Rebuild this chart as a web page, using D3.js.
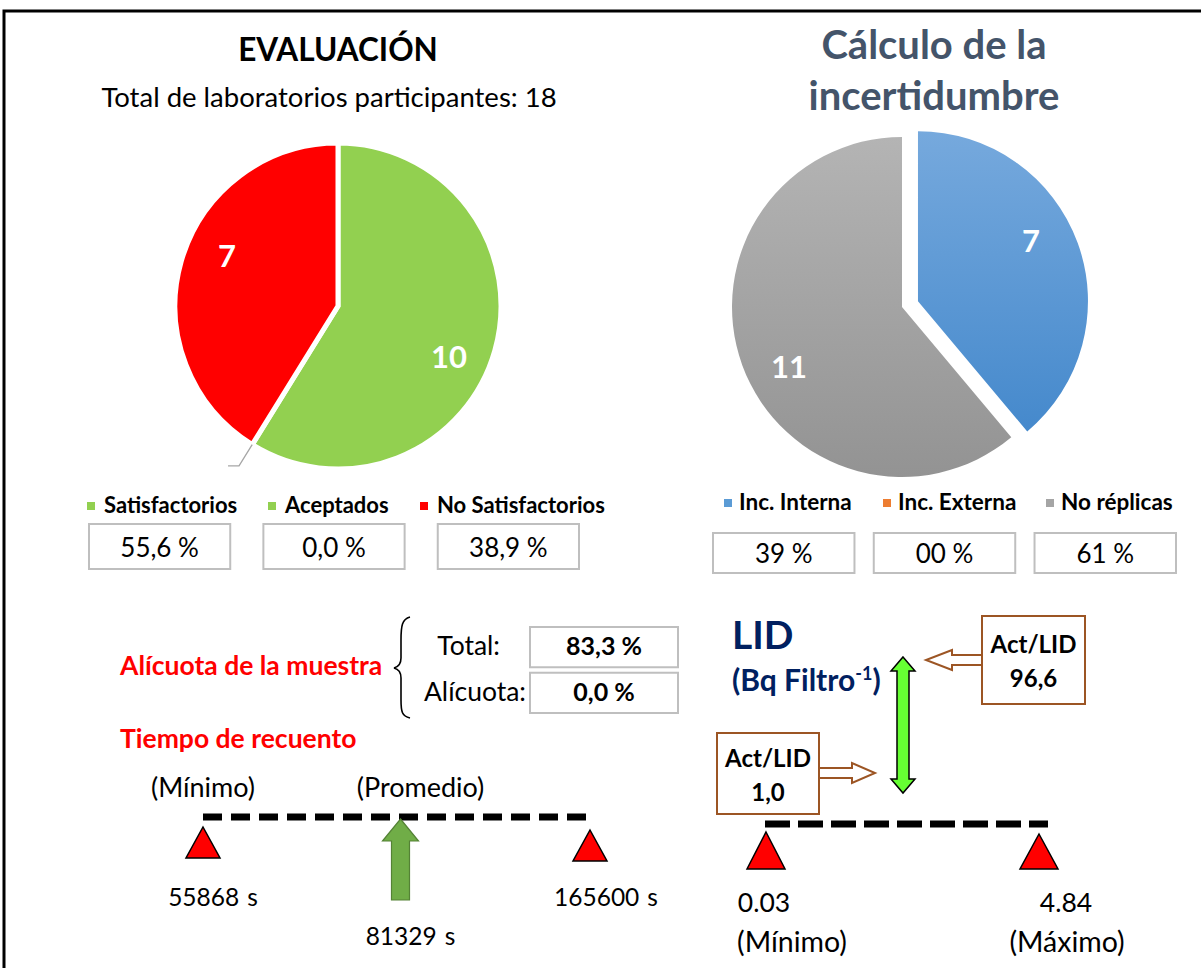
<!DOCTYPE html>
<meta charset="utf-8">
<head>
  <script src="https://d3js.org/d3.v7.min.js"></script>
  <style>
    body { margin: 0; background: #fff; }
    svg { display: block; }
    text { font-family: Lato, "Open Sans", sans-serif; }
  </style>
</head>
<body>
<script>
// ---- data ----
var evalCats = ["Satisfactorios", "Aceptados", "No Satisfactorios"];
var evalValues = [10, 0, 7];
var evalPct = ["55,6 %", "0,0 %", "38,9 %"];
var evalColors = ["#92d050", "#92d050", "#ff0000"];
var totalLabs = 18;

var uncCats = ["Inc. Interna", "Inc. Externa", "No réplicas"];
var uncValues = [7, 0, 11];
var uncPct = ["39 %", "00 %", "61 %"];

var aliqLabels = ["Total:", "Alícuota:"];
var aliqValues = ["83,3 %", "0,0 %"];

var timeKeys = ["min", "mean", "max"];
var timeNames = ["(Mínimo)", "(Promedio)", "(Máximo)"];
var timeValues = [55868, 81329, 165600];

var lidKeys = ["min", "max"];
var lidNames = ["(Mínimo)", "(Máximo)"];
var lidValues = ["0.03", "4.84"];
var actLid = ["96,6", "1,0"];

var W = 1201, H = 968;
var svg = d3.select("body").append("svg").attr("width", W).attr("height", H);

var defs = svg.append("defs");
function grad(id, c1, c2) {
  var g = defs.append("linearGradient").attr("id", id)
    .attr("x1", 0).attr("y1", 0).attr("x2", 0).attr("y2", 1);
  g.append("stop").attr("offset", "0%").attr("stop-color", c1);
  g.append("stop").attr("offset", "100%").attr("stop-color", c2);
}
grad("gBlue", "#76a9dd", "#4589cc");
grad("gOrange", "#f4a060", "#e8762c");
grad("gGrey", "#b4b4b4", "#939393");

// frame
svg.append("path").attr("d", "M4," + H + "V11H" + W)
  .attr("fill", "none").attr("stroke", "#000").attr("stroke-width", 3);

function labelPos(d, r, off) {
  var a = (d.startAngle + d.endAngle) / 2 + off;
  return "translate(" + (r * Math.sin(a)) + "," + (-r * Math.cos(a)) + ")";
}

// ---------- left pie ----------
svg.append("text").attr("x", 338).attr("y", 61).attr("text-anchor", "middle")
  .attr("font-weight", "bold").attr("font-size", 31.5).text("EVALUACIÓN");
svg.append("text").attr("x", 329).attr("y", 107).attr("text-anchor", "middle")
  .attr("font-size", 27.5).text("Total de laboratorios participantes: " + totalLabs);

var pie = d3.pie().sort(null).value(function(d) { return d; });
var arc1 = d3.arc().innerRadius(0).outerRadius(163);
var p1 = svg.append("g").attr("transform", "translate(338,306)");
var a1 = pie(evalValues);
p1.selectAll("path").data(a1).enter().append("path")
  .attr("d", arc1)
  .attr("fill", function(d, i) { return evalColors[i]; })
  .attr("stroke", "#fff").attr("stroke-width", function(d) { return d.value ? 5 : 0; });

p1.selectAll("text.v").data(a1.filter(function(d) { return d.value > 0; })).enter()
  .append("text").attr("class", "v")
  .attr("transform", function(d) { return labelPos(d, 122, 0.15); })
  .attr("text-anchor", "middle").attr("dy", "0.36em")
  .attr("fill", "#fff").attr("font-weight", "bold").attr("font-size", 31)
  .text(function(d) { return d.value; });

// leader line for the zero slice
var zero = a1[1];
var pA = d3.arc().innerRadius(163).outerRadius(163).centroid(zero);
var pB = d3.arc().innerRadius(188).outerRadius(188).centroid(zero);
p1.append("path")
  .attr("d", "M" + pA + "L" + pB + "h-11")
  .attr("fill", "none").attr("stroke", "#a6a6a6").attr("stroke-width", 1.3);

// legend + boxes left
var legX1 = d3.scaleOrdinal().domain(evalCats).range([87, 268, 420]);
evalCats.forEach(function(c, i) {
  svg.append("rect").attr("x", legX1(c)).attr("y", 502).attr("width", 8).attr("height", 8)
    .attr("fill", evalColors[i]);
  svg.append("text").attr("x", legX1(c) + 17).attr("y", 513)
    .attr("font-weight", "bold").attr("font-size", 22).text(c);
});
var boxX1 = d3.scaleBand().domain(evalCats).range([89, 579]).paddingInner(0.19);
svg.selectAll("rect.b1").data(evalCats).enter().append("rect").attr("class", "b1")
  .attr("x", function(d) { return boxX1(d); }).attr("y", 524)
  .attr("width", boxX1.bandwidth()).attr("height", 45)
  .attr("fill", "#fff").attr("stroke", "#bfbfbf").attr("stroke-width", 2);
svg.selectAll("text.b1").data(evalCats).enter().append("text").attr("class", "b1")
  .attr("x", function(d) { return boxX1(d) + boxX1.bandwidth() / 2; }).attr("y", 557)
  .attr("text-anchor", "middle").attr("font-size", 26)
  .text(function(d, i) { return evalPct[i]; });

// ---------- right pie ----------
svg.append("text").attr("x", 934).attr("y", 59).attr("text-anchor", "middle")
  .attr("font-weight", "bold").attr("font-size", 40).attr("fill", "#44546a").text("Cálculo de la");
svg.append("text").attr("x", 934).attr("y", 110).attr("text-anchor", "middle")
  .attr("font-weight", "bold").attr("font-size", 40).attr("fill", "#44546a").text("incertidumbre");

var uncFill = ["url(#gBlue)", "url(#gOrange)", "url(#gGrey)"];
var uncLeg = ["#5b9bd5", "#ed7d31", "#a5a5a5"];
var arc2 = d3.arc().innerRadius(0).outerRadius(170);
var p2 = svg.append("g").attr("transform", "translate(902,307)");
var a2 = pie(uncValues);
function explode(d, i) {
  if (i !== 0) return "";
  var m = (d.startAngle + d.endAngle) / 2;
  return "translate(" + (17 * Math.sin(m)) + "," + (-17 * Math.cos(m)) + ")";
}
p2.selectAll("path").data(a2).enter().append("path")
  .attr("transform", function(d, i) { return explode(d, i) || null; })
  .attr("d", arc2)
  .attr("fill", function(d, i) { return uncFill[i]; });

p2.selectAll("text.v").data(a2).enter()
  .filter(function(d) { return d.value > 0; })
  .append("text").attr("class", "v")
  .attr("transform", function(d) { return explode(d, d.index) + labelPos(d, 128, -0.14); })
  .attr("text-anchor", "middle").attr("dy", "0.36em")
  .attr("fill", "#fff").attr("font-weight", "bold").attr("font-size", 31)
  .text(function(d) { return d.value; });

var legX2 = d3.scaleOrdinal().domain(uncCats).range([724, 883, 1046]);
uncCats.forEach(function(c, i) {
  svg.append("rect").attr("x", legX2(c)).attr("y", 499).attr("width", 8).attr("height", 8)
    .attr("fill", uncLeg[i]);
  svg.append("text").attr("x", legX2(c) + 15).attr("y", 510)
    .attr("font-weight", "bold").attr("font-size", 22.5).text(c);
});
var boxX2 = d3.scaleBand().domain(uncCats).range([713, 1176]).paddingInner(0.12);
svg.selectAll("rect.b2").data(uncCats).enter().append("rect").attr("class", "b2")
  .attr("x", function(d) { return boxX2(d); }).attr("y", 533)
  .attr("width", boxX2.bandwidth()).attr("height", 40)
  .attr("fill", "#fff").attr("stroke", "#bfbfbf").attr("stroke-width", 2);
svg.selectAll("text.b2").data(uncCats).enter().append("text").attr("class", "b2")
  .attr("x", function(d) { return boxX2(d) + boxX2.bandwidth() / 2; }).attr("y", 563)
  .attr("text-anchor", "middle").attr("font-size", 26)
  .text(function(d, i) { return uncPct[i]; });

// ---------- alícuota ----------
svg.append("text").attr("x", 120).attr("y", 675).attr("fill", "#ff0000")
  .attr("font-weight", "bold").attr("font-size", 26.5).text("Alícuota de la muestra");
svg.append("path")
  .attr("d", "M410,617 C402,619 401,626 401,640 L401,658 C401,664 398,667 394,668 C398,669 401,672 401,678 L401,700 C401,712 402,716 410,718")
  .attr("fill", "none").attr("stroke", "#000").attr("stroke-width", 1.6);

var rowY = d3.scaleBand().domain(aliqLabels).range([627, 713]).paddingInner(0.12);
aliqLabels.forEach(function(l, i) {
  svg.append("rect").attr("x", 530).attr("y", rowY(l)).attr("width", 148).attr("height", rowY.bandwidth())
    .attr("fill", "#fff").attr("stroke", "#bfbfbf").attr("stroke-width", 2);
  svg.append("text").attr("x", i === 0 ? 500 : 526).attr("y", rowY(l) + 28)
    .attr("text-anchor", "end").attr("font-size", 26.5).text(l);
  svg.append("text").attr("x", 604).attr("y", rowY(l) + 28)
    .attr("text-anchor", "middle").attr("font-weight", "bold").attr("font-size", 25).text(aliqValues[i]);
});

// ---------- tiempo de recuento ----------
svg.append("text").attr("x", 120).attr("y", 748).attr("fill", "#ff0000")
  .attr("font-weight", "bold").attr("font-size", 26.5).text("Tiempo de recuento");

var tx = d3.scalePoint().domain(timeKeys).range([203, 590]);
function tri(x, y) {
  return "M" + x + "," + y + "L" + (x + 17) + "," + (y + 31) + "L" + (x - 17) + "," + (y + 31) + "Z";
}
svg.append("line").attr("x1", tx("min")).attr("x2", tx("max")).attr("y1", 817).attr("y2", 817)
  .attr("stroke", "#000").attr("stroke-width", 7).attr("stroke-dasharray", "19,9");
["min", "max"].forEach(function(k) {
  svg.append("path").attr("d", tri(tx(k), k === "min" ? 827 : 830))
    .attr("fill", "#ff0000").attr("stroke", "#000").attr("stroke-width", 1.5);
});
// green block arrow (promedio)
var mx = tx("mean") + 4;
svg.append("path")
  .attr("d", "M" + mx + ",819 L" + (mx + 18) + ",841 L" + (mx + 9) + ",841 L" + (mx + 9) + ",900 L" +
    (mx - 9) + ",900 L" + (mx - 9) + ",841 L" + (mx - 18) + ",841 Z")
  .attr("fill", "#70ad47").attr("stroke", "#548235").attr("stroke-width", 1.2);

svg.append("text").attr("x", tx("min")).attr("y", 797).attr("text-anchor", "middle")
  .attr("font-size", 27).text(timeNames[0]);
svg.append("text").attr("x", tx("mean") + 24).attr("y", 797).attr("text-anchor", "middle")
  .attr("font-size", 27).text(timeNames[1]);
function secs(v, x, y) {
  var t = svg.append("text").attr("x", x).attr("y", y).attr("text-anchor", "middle").attr("font-size", 24.5);
  t.append("tspan").text(v);
  t.append("tspan").attr("dx", 8).text("s");
}
secs(timeValues[0], tx("min") + 10, 906);
secs(timeValues[1], tx("mean") + 14, 945);
secs(timeValues[2], tx("max") + 16, 906);

// ---------- LID ----------
svg.append("text").attr("x", 732).attr("y", 649).attr("fill", "#002060")
  .attr("font-weight", "bold").attr("font-size", 39).text("LID");
var sub = svg.append("text").attr("x", 732).attr("y", 691).attr("fill", "#002060")
  .attr("font-weight", "bold").attr("font-size", 30);
sub.append("tspan").text("(Bq Filtro");
sub.append("tspan").attr("dy", -11).attr("font-size", 18).text("-1");
sub.append("tspan").attr("dy", 11).text(")");

// green double arrow
svg.append("path")
  .attr("d", "M903,657 L915,671 L909,671 L909,779 L915,779 L903,793 L891,779 L897,779 L897,671 L891,671 Z")
  .attr("fill", "#66ff33").attr("stroke", "#000").attr("stroke-width", 1.5);

// Act/LID callouts
function callout(bx, by, bw, bh, val, dir, ay) {
  var g = svg.append("g");
  var ax, d;
  if (dir < 0) {
    ax = bx;
    d = "M" + ax + "," + (ay - 5) + " H" + (ax - 30) + " V" + (ay - 10) + " L" + (ax - 56) + "," + ay +
      " L" + (ax - 30) + "," + (ay + 10) + " V" + (ay + 5) + " H" + ax;
  } else {
    ax = bx + bw;
    d = "M" + ax + "," + (ay - 5) + " H" + (ax + 33) + " V" + (ay - 10) + " L" + (ax + 56) + "," + ay +
      " L" + (ax + 33) + "," + (ay + 10) + " V" + (ay + 5) + " H" + ax;
  }
  g.append("path").attr("d", d).attr("fill", "#fff").attr("stroke", "#9c5524").attr("stroke-width", 2);
  g.append("rect").attr("x", bx).attr("y", by).attr("width", bw).attr("height", bh)
    .attr("fill", "#fff").attr("stroke", "#9c5524").attr("stroke-width", 2);
  g.append("text").attr("x", bx + bw / 2).attr("y", by + bh / 2 - 7).attr("text-anchor", "middle")
    .attr("font-weight", "bold").attr("font-size", 24).text("Act/LID");
  g.append("text").attr("x", bx + bw / 2).attr("y", by + bh / 2 + 27).attr("text-anchor", "middle")
    .attr("font-weight", "bold").attr("font-size", 24).text(val);
}
callout(982, 616, 103, 88, actLid[0], -1, 660);
callout(717, 733, 102, 81, actLid[1], 1, 773);

// LID range
var lx = d3.scalePoint().domain(lidKeys).range([766, 1039]);
svg.append("line").attr("x1", lx("min") - 1).attr("x2", lx("max") + 9).attr("y1", 824).attr("y2", 824)
  .attr("stroke", "#000").attr("stroke-width", 7).attr("stroke-dasharray", "25,8");
lidKeys.forEach(function(k, i) {
  var x = lx(k);
  svg.append("path")
    .attr("d", "M" + x + "," + (i ? 834 : 832) + "L" + (x + 19) + ",869L" + (x - 19) + ",869Z")
    .attr("fill", "#ff0000").attr("stroke", "#000").attr("stroke-width", 1.5);
  svg.append("text").attr("x", x + (i ? 27 : -2)).attr("y", 912).attr("text-anchor", "middle")
    .attr("font-size", 26.5).text(lidValues[i]);
  svg.append("text").attr("x", x + (i ? 28 : 26)).attr("y", 952).attr("text-anchor", "middle")
    .attr("font-size", 28.5).text(lidNames[i]);
});
</script>
</body>
</html>
